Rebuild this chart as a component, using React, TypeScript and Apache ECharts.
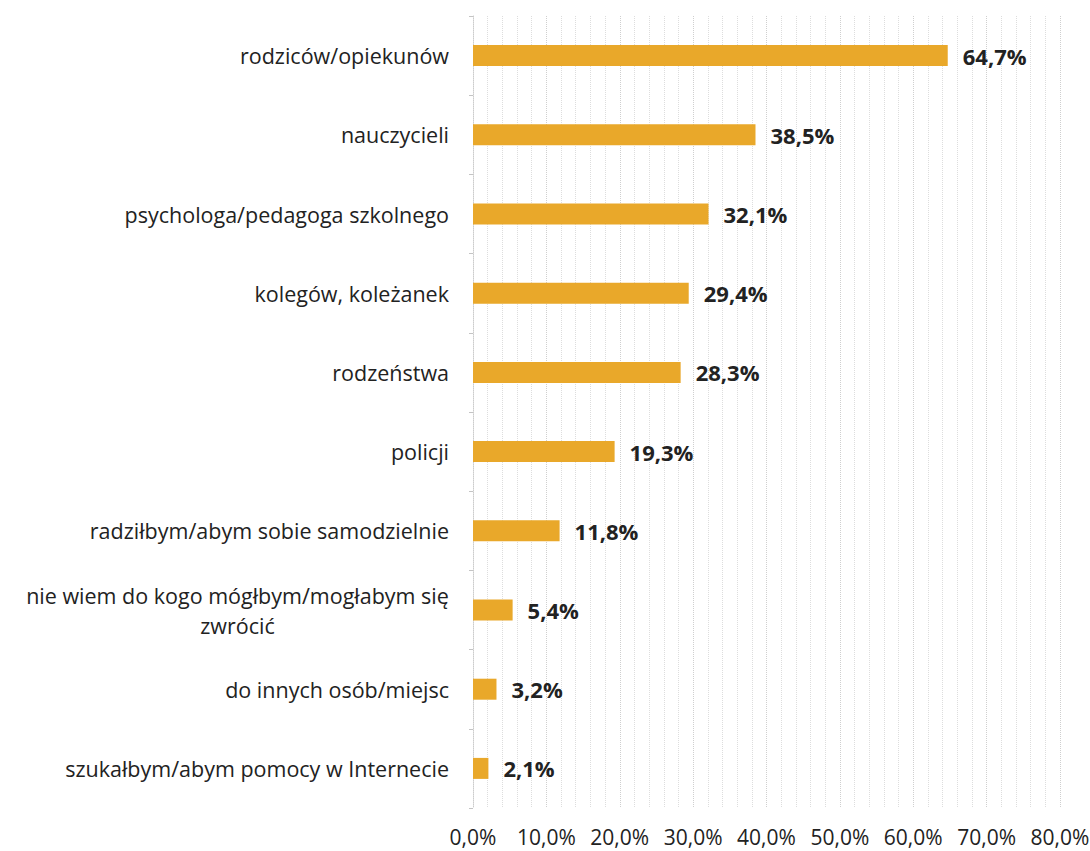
import React, { useEffect, useRef } from "react";
import * as echarts from "echarts";

const categories = [
  "rodziców/opiekunów",
  "nauczycieli",
  "psychologa/pedagoga szkolnego",
  "kolegów, koleżanek",
  "rodzeństwa",
  "policji",
  "radziłbym/abym sobie samodzielnie",
  "nie wiem do kogo mógłbym/mogłabym się\nzwrócić",
  "do innych osób/miejsc",
  "szukałbym/abym pomocy w Internecie",
];
const values = [64.7, 38.5, 32.1, 29.4, 28.3, 19.3, 11.8, 5.4, 3.2, 2.1];

const CAT_FONT = 21.5;

function measure(text: string, size: number): number {
  const c = document.createElement("canvas").getContext("2d");
  if (!c) return 440;
  c.font = `${size}px "Open Sans"`;
  return Math.ceil(c.measureText(text).width);
}

export default function App() {
  const ref = useRef<HTMLDivElement>(null);
  useEffect(() => {
    if (!ref.current) return;
    const chart = echarts.init(ref.current, null, { renderer: "svg" });
    const multi = categories.find((c) => c.indexOf("\n") >= 0) || "";
    const blockW = Math.max(...multi.split("\n").map((s) => measure(s, CAT_FONT)));
    chart.setOption({
      animation: false,
      backgroundColor: "#ffffff",
      textStyle: { fontFamily: "Open Sans" },
      grid: {
        left: 473,
        right: 30,
        top: 16,
        bottom: 43,
        containLabel: false,
        outerBoundsMode: "none",
      },
      xAxis: {
        type: "value",
        min: 0,
        max: 80,
        interval: 10,
        axisLine: { show: false },
        axisTick: { show: false },
        axisLabel: {
          color: "#222",
          fontSize: 21,
          margin: 18,
          formatter: (v: number) => v.toFixed(1).replace(".", ",") + "%",
        },
        splitLine: { show: true, lineStyle: { color: "#cfcfcf", type: "dotted", width: 1 } },
        minorTick: { show: false, splitNumber: 5 },
        minorSplitLine: { show: true, lineStyle: { color: "#dddddd", type: "dotted", width: 1 } },
      },
      yAxis: {
        type: "category",
        inverse: true,
        data: categories,
        axisLine: { show: true, lineStyle: { color: "#cccccc", type: "dotted" } },
        axisTick: { show: true, length: 4, lineStyle: { color: "#c4c4c4" } },
        axisLabel: {
          color: "#222",
          fontSize: CAT_FONT,
          margin: 24,
          lineHeight: 30,
          formatter: (v: string) =>
            v.indexOf("\n") >= 0
              ? v
                  .split("\n")
                  .map((s) => `{w|${s}}`)
                  .join("\n")
              : v,
          rich: {
            w: { width: blockW, align: "center", fontSize: CAT_FONT, color: "#222", lineHeight: 30 },
          },
        },
      },
      series: [
        {
          type: "bar",
          data: values,
          barWidth: 21,
          itemStyle: { color: "#E9A82A" },
          label: {
            show: true,
            position: "right",
            distance: 15,
            color: "#222",
            fontWeight: "bold",
            fontSize: 22,
            formatter: (p: any) => p.value.toFixed(1).replace(".", ",") + "%",
          },
        },
      ],
    });
    return () => chart.dispose();
  }, []);
  return (
    <div
      ref={ref}
      style={{ position: "fixed", left: 0, top: 0, width: 1090, height: 851, background: "#fff" }}
    />
  );
}
